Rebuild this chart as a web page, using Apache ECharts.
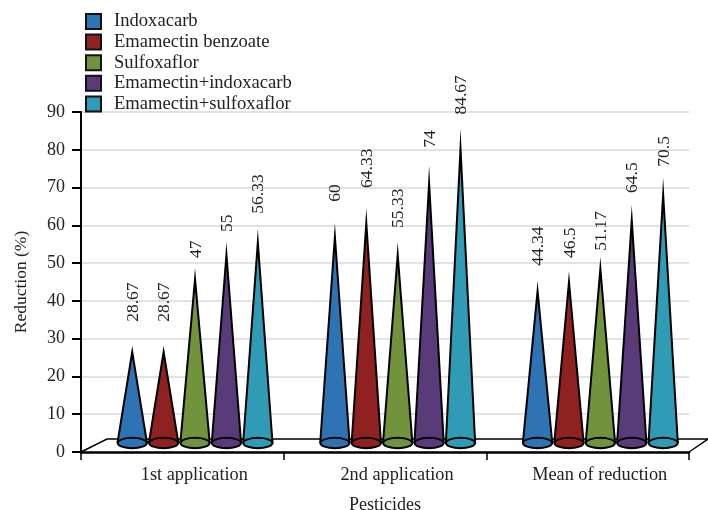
<!DOCTYPE html>
<html>
<head>
<meta charset="utf-8">
<style>html,body{margin:0;padding:0;background:#fff}#c{width:708px;height:510px}</style>
<script src="https://cdn.jsdelivr.net/npm/echarts@6/dist/echarts.min.js"></script>
</head>
<body>
<div id="c"></div>
<script>
const categories = ['1st application', '2nd application', 'Mean of reduction'];
const seriesNames = ['Indoxacarb', 'Emamectin benzoate', 'Sulfoxaflor', 'Emamectin+indoxacarb', 'Emamectin+sulfoxaflor'];
// values printed on the cones
const indoxacarb = ['28.67', '60', '44.34'];
const emamectinBenzoate = ['28.67', '64.33', '46.5'];
const sulfoxaflor = ['47', '55.33', '51.17'];
const emamectinIndoxacarb = ['55', '74', '64.5'];
const emamectinSulfoxaflor = ['56.33', '84.67', '70.5'];
// cone tip heights as read against the y axis
const indoxacarbTips = [28.1, 60.7, 45.3];
const emamectinBenzoateTips = [28.1, 64.6, 47.9];
const sulfoxaflorTips = [48.7, 55.6, 51.7];
const emamectinIndoxacarbTips = [55.6, 75.8, 65.4];
const emamectinSulfoxaflorTips = [59.1, 85.6, 72.6];
const yTicks = { min: 0, max: 90, interval: 10 };

const printed = [indoxacarb, emamectinBenzoate, sulfoxaflor, emamectinIndoxacarb, emamectinSulfoxaflor];
const tips = [indoxacarbTips, emamectinBenzoateTips, sulfoxaflorTips, emamectinIndoxacarbTips, emamectinSulfoxaflorTips];
const colors = ['#2e73b4', '#8f2120', '#71933b', '#5a3b7a', '#2f9bb4'];
// gap in pixels between each cone tip and its label [series][category]
const labelGaps = [[24, 21, 15], [24, 20, 13], [10, 14, 6], [10, 18, 12], [15, 14, 11]];

const FONT = '"Liberation Serif","Times New Roman",serif';
const INK = '#222';

function coneSeries(s) {
  return {
    name: seriesNames[s],
    type: 'custom',
    itemStyle: { color: colors[s] },
    encode: { x: 0, y: 1 },
    data: categories.map((c, i) => [i, tips[s][i], printed[s][i]]),
    z: 5,
    renderItem(params, api) {
      const cat = api.value(0);
      const tip = api.coord([cat, api.value(1)]);
      const zero = api.coord([cat, 0]);
      const cx = tip[0] + 12.7 + (s - 2) * 31.4;
      const by = zero[1] - 9;
      const rx = 14.6, ry = 5.2, lw = 2;
      // the mitred stroke runs past the path's apex: lower the apex so the visible tip lands on the value
      const height = (by - 1 - tip[1]) / (1 + lw / 2 / rx);
      const apexY = by - 1 - height;
      const stroke = { stroke: '#000', lineWidth: lw, fill: colors[s] };
      return {
        type: 'group',
        children: [
          { type: 'polygon', shape: { points: [[cx, apexY], [cx - rx, by - 1], [cx + rx, by - 1]] }, style: Object.assign({ lineJoin: 'miter', miterLimit: 40 }, stroke) },
          { type: 'ellipse', shape: { cx: cx, cy: by, rx: rx, ry: ry }, style: stroke },
          { type: 'text', x: cx + 1, y: tip[1] - labelGaps[s][cat], rotation: Math.PI / 2,
            style: { text: String(api.value(2)), font: '17.5px ' + FONT, fill: INK, align: 'left', verticalAlign: 'middle' } }
        ]
      };
    }
  };
}

const floorSeries = {
  type: 'custom',
  silent: true,
  data: [[0, 0]],
  encode: { x: 0, y: 1 },
  z: 3,
  renderItem(params) {
    const g = params.coordSys;
    const bottom = g.y + g.height, right = g.x + g.width, back = bottom - 13;
    return {
      type: 'polyline',
      shape: { points: [[g.x, bottom], [g.x + 26, back], [right + 19, back], [right, bottom]] },
      style: { stroke: '#000', lineWidth: 1.5, fill: null }
    };
  }
};

const chart = echarts.init(document.getElementById('c'), null, { renderer: 'canvas' });
chart.setOption({
  animation: false,
  backgroundColor: '#fff',
  textStyle: { fontFamily: FONT },
  grid: { left: 81, right: 19, top: 112, bottom: 58, outerBoundsMode: 'none' },
  legend: {
    data: seriesNames,
    orient: 'vertical',
    left: 85,
    top: 12,
    padding: 0,
    itemWidth: 15,
    itemHeight: 15,
    itemGap: 1.6,
    icon: 'rect',
    itemStyle: { borderColor: '#111', borderWidth: 2 },
    textStyle: { fontFamily: FONT, fontSize: 18.6, lineHeight: 15, color: INK, padding: [0, 0, 0, 8] }
  },
  xAxis: {
    type: 'category',
    data: categories,
    name: 'Pesticides',
    nameLocation: 'middle',
    nameGap: 44,
    nameTextStyle: { fontFamily: FONT, fontSize: 18, color: INK },
    axisLine: { onZero: false, lineStyle: { color: '#000', width: 2.5 } },
    axisTick: { show: true, length: 8, lineStyle: { color: '#000', width: 1.5 } },
    axisLabel: { fontFamily: FONT, fontSize: 18.3, color: INK, margin: 14, padding: [0, 0, 0, 24] },
    splitLine: { show: false }
  },
  yAxis: {
    type: 'value',
    min: yTicks.min,
    max: yTicks.max,
    interval: yTicks.interval,
    name: 'Reduction (%)',
    nameLocation: 'middle',
    nameGap: 51,
    nameTextStyle: { fontFamily: FONT, fontSize: 17.5, color: INK },
    axisLine: { show: true, lineStyle: { color: '#000', width: 2 } },
    axisTick: { show: true, length: 9, lineStyle: { color: '#000', width: 2 } },
    axisLabel: { fontFamily: FONT, fontSize: 18, color: INK, margin: 16 },
    splitLine: { show: true, lineStyle: { color: '#d9d9d9', width: 1.5 } }
  },
  series: [floorSeries].concat(seriesNames.map((n, s) => coneSeries(s)))
});
</script>
</body>
</html>
